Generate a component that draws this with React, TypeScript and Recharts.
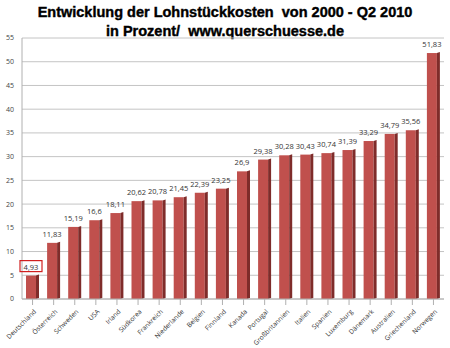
import { BarChart, Bar, XAxis, YAxis, CartesianGrid, LabelList } from "recharts";

const countries = [
  "Deutschland", "Österreich", "Schweden", "USA", "Irland", "Südkorea", "Frankreich",
  "Niederlande", "Belgien", "Finnland", "Kanada", "Portugal", "Großbritannien", "Italien",
  "Spanien", "Luxemburg", "Dänemark", "Australien", "Griechenland", "Norwegen",
];
const values = [
  4.93, 11.83, 15.19, 16.6, 18.11, 20.62, 20.78, 21.45, 22.39, 23.25,
  26.9, 29.38, 30.28, 30.43, 30.74, 31.39, 33.29, 34.79, 35.56, 51.83,
];
const yTicks = [0, 5, 10, 15, 20, 25, 30, 35, 40, 45, 50, 55];

const data = countries.map((name, i) => ({ name, value: values[i] }));

const fmt = (v: number) => String(v).replace(".", ",");

// 3d-looking bar: red face plus darker right side
const Bar3D = (props: any) => {
  const { x, y, width, height } = props;
  if (height <= 0) return null;
  const side = 3;
  return (
    <g>
      <rect x={x} y={y} width={width - side} height={height} fill="#c0504d" />
      <polygon
        points={`${x + width - side},${y} ${x + width},${y - 1} ${x + width},${y + height - 1} ${x + width - side},${y + height}`}
        fill="#7f2c2a"
      />
    </g>
  );
};

const ValueLabel = (props: any) => {
  const { x, y, width, value, index } = props;
  const cx = x + (width - 3) / 2;
  const text = fmt(value);
  return (
    <g>
      {index === 0 && (
        <rect x={cx - 11} y={y - 15} width={22} height={11} fill="none" stroke="#d02020" strokeWidth={1.2} />
      )}
      <text x={cx} y={y - 6} textAnchor="middle" fontSize={7.5} fill="#333" fontFamily="Open Sans, sans-serif">
        {text}
      </text>
    </g>
  );
};

const XTick = (props: any) => {
  const { x, y, payload } = props;
  return (
    <g transform={`translate(${x + 2},${y + 3})`}>
      <text transform="rotate(-45)" textAnchor="end" fontSize={6.6} fill="#333" fontFamily="Open Sans, sans-serif" dy={3}>
        {payload.value}
      </text>
    </g>
  );
};

export default function App() {
  return (
    <div style={{ position: "absolute", left: 0, top: 0, width: 450, height: 348, background: "#fff" }}>
      <div
        style={{
          position: "absolute", left: 0, top: 3, width: 450, textAlign: "center",
          fontFamily: "Liberation Sans, Arial, sans-serif", fontWeight: 900, fontSize: 14.5,
          lineHeight: "19px", color: "#000", WebkitTextStroke: "0.4px #000",
        }}
      >
        Entwicklung der Lohnstückkosten&nbsp; von 2000 - Q2 2010
        <br />
        in Prozent/&nbsp; www.querschuesse.de
      </div>
      <BarChart
        width={450}
        height={348}
        data={data}
        margin={{ top: 38, right: 6, bottom: 0, left: 0 }}
      >
        <CartesianGrid vertical={false} stroke="#c4c4c4" strokeWidth={1} />
        <XAxis
          dataKey="name"
          interval={0}
          height={49}
          tick={<XTick />}
          tickLine={{ stroke: "#b0b0b0" }}
          axisLine={{ stroke: "#b0b0b0" }}
        />
        <YAxis
          width={22}
          domain={[0, 55]}
          ticks={yTicks}
          interval={0}
          tick={{ fontSize: 7, fill: "#444", fontFamily: "Open Sans, sans-serif" }}
          tickLine={false}
          axisLine={{ stroke: "#b0b0b0" }}
        />
        <Bar dataKey="value" barSize={13} shape={<Bar3D />} isAnimationActive={false}>
          <LabelList dataKey="value" content={<ValueLabel />} />
        </Bar>
      </BarChart>
    </div>
  );
}
